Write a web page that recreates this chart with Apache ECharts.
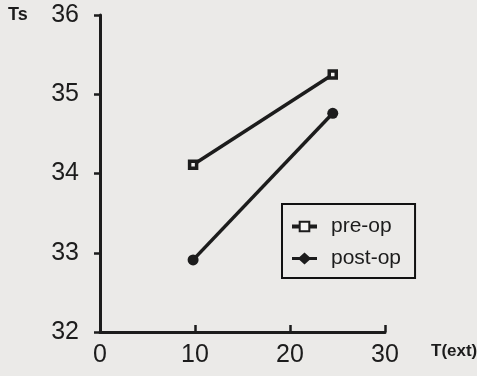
<!DOCTYPE html>
<html>
<head>
<meta charset="utf-8">
<script src="https://cdn.jsdelivr.net/npm/echarts@6/dist/echarts.min.js"></script>
<style>
html,body{margin:0;padding:0;background:#ebeae8;}
#c{width:477px;height:376px;}
</style>
</head>
<body>
<div id="c"></div>
<script>
const xTicks = [0, 10, 20, 30];
const yTicks = [32, 33, 34, 35, 36];
const seriesNames = ['pre-op', 'post-op'];
const preOpX = [9.8, 24.5];
const preOpY = [34.11, 35.25];
const postOpX = [9.8, 24.5];
const postOpY = [32.91, 34.76];

const ink = '#1c1c1c';
const chart = echarts.init(document.getElementById('c'));
chart.setOption({
  backgroundColor: '#ebeae8',
  animation: false,
  grid: {left: 100, right: 92, top: 15, bottom: 44},
  xAxis: {
    type: 'value', min: xTicks[0], max: xTicks[xTicks.length-1], interval: 10,
    axisLine: {show: true, lineStyle: {color: ink, width: 3}},
    axisTick: {show: true, inside: true, length: 7, lineStyle: {color: ink, width: 2.5}},
    splitLine: {show: false},
    axisLabel: {color: ink, fontSize: 25, fontFamily: 'Liberation Sans', margin: 11}
  },
  yAxis: {
    type: 'value', min: yTicks[0], max: yTicks[yTicks.length-1], interval: 1,
    axisLine: {show: true, lineStyle: {color: ink, width: 3}},
    axisTick: {show: true, inside: false, length: 6, lineStyle: {color: ink, width: 2.5}},
    splitLine: {show: false},
    axisLabel: {color: ink, fontSize: 25, fontFamily: 'Liberation Sans', margin: 21}
  },
  legend: {
    orient: 'vertical', left: 282, top: 204,
    borderColor: '#111', borderWidth: 2, padding: [12, 14, 9, 8],
    itemWidth: 25, itemHeight: 12, itemGap: 11,
    lineStyle: {width: 4},
    textStyle: {color: ink, fontSize: 21, fontFamily: 'Liberation Sans', padding: [0,0,0,9]},
    data: [
      {name: seriesNames[0]},
      {name: seriesNames[1], icon: 'path://M0,4.5 L7.5,4.5 L12.5,0 L17.5,4.5 L25,4.5 L25,7.5 L17.5,7.5 L12.5,12 L7.5,7.5 L0,7.5 Z'}
    ]
  },
  graphic: [
    {type: 'text', left: 8, top: 6, style: {text: 'Ts', fontSize: 18, fontWeight: 'bold', fontFamily: 'Liberation Sans', fill: ink}},
    {type: 'text', left: 431, top: 343, style: {text: 'T(ext)', fontSize: 17, fontWeight: 'bold', fontFamily: 'Liberation Sans', fill: ink}}
  ],
  series: [
    {
      name: seriesNames[0], type: 'line',
      data: preOpX.map((x, i) => [x, preOpY[i]]),
      symbol: 'rect', symbolSize: 7,
      lineStyle: {color: ink, width: 3.5},
      itemStyle: {color: '#f4f4f4', borderColor: ink, borderWidth: 3.5}
    },
    {
      name: seriesNames[1], type: 'line',
      data: postOpX.map((x, i) => [x, postOpY[i]]),
      symbol: 'circle', symbolSize: 11,
      lineStyle: {color: ink, width: 3.5},
      itemStyle: {color: ink}
    }
  ]
});
</script>
</body>
</html>
